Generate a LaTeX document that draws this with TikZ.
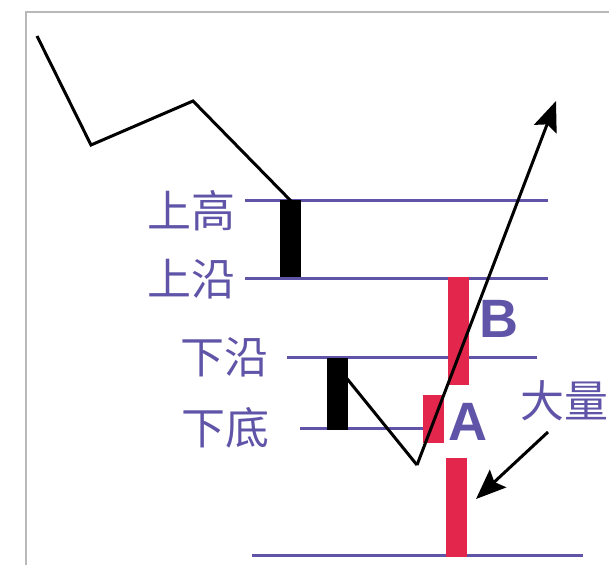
\documentclass[tikz,border=0pt]{standalone}
\usepackage{fontspec}
\setmainfont{Noto Sans CJK SC}
\newfontfamily\lettre{Liberation Sans}
\usetikzlibrary{arrows.meta}
\definecolor{violet}{RGB}{95,84,168}
\definecolor{rouge}{RGB}{226,38,76}
\definecolor{cadre}{RGB}{185,185,185}
\newcommand{\niveau}[3]{\draw[violet, line width=3pt] (#2,#1) -- (#3,#1)}
\newcommand{\bougie}[4]{\fill[#1] (#2,#3) rectangle (#2+21,#4)}

\begin{document}
\begin{tikzpicture}[x=1pt, y=-1pt,
	txt/.style={text=violet, font=\fontsize{44}{44}\selectfont, inner sep=0pt},
	lettres/.style={text=violet, font=\lettre\bfseries\fontsize{54}{54}\selectfont, inner sep=0pt},
	trait/.style={line width=3pt, line join=miter},
	fleche/.style={line width=3pt, -{Stealth[length=30pt, width=24pt, inset=5pt]}}]
	\useasboundingbox (0,0) rectangle (609,565);
%Frame
	\draw[cadre, line width=1.5pt] (26,565) -- (26,12) -- (609,12);
%Levels
	\niveau{200}{245}{548};
	\niveau{278}{245}{548};
	\niveau{357}{287}{537};
	\niveau{428}{300}{423};
	\niveau{555}{252}{583};
%Labels
	\node[txt, anchor=east] (shanggao) at (236,211) {上高};
	\node[txt, anchor=east] (shangyan) at (236,279) {上沿};
	\node[txt, anchor=east] (xiayan) at (269,357) {下沿};
	\node[txt, anchor=east] (xiadi) at (270,428) {下底};
	\node[txt, anchor=west] (daliang) at (520,401) {大量};
%Candles
	\bougie{black}{280}{200}{277};
	\bougie{black}{327}{358}{430};
	\bougie{rouge}{423}{395}{443};
	\bougie{rouge}{448}{277}{385};
	\bougie{rouge}{446}{458}{557};
	\node[lettres] (b) at (499,319) {B};
	\node[lettres] (a) at (468,422) {A};
%Price path
	\coordinate (bas) at (417,465);
	\coordinate (haut) at (556,101);
	\draw[trait] (37,36) -- (91,145) -- (193,101) -- (291,201);
	\draw[trait] (340,370) -- (bas);
	\draw[fleche] (bas) -- (haut);
%Volume arrow
	\coordinate (vdebut) at (548,432);
	\coordinate (vfin) at (476,499);
	\draw[fleche] (vdebut) -- (vfin);
\end{tikzpicture}
\end{document}
